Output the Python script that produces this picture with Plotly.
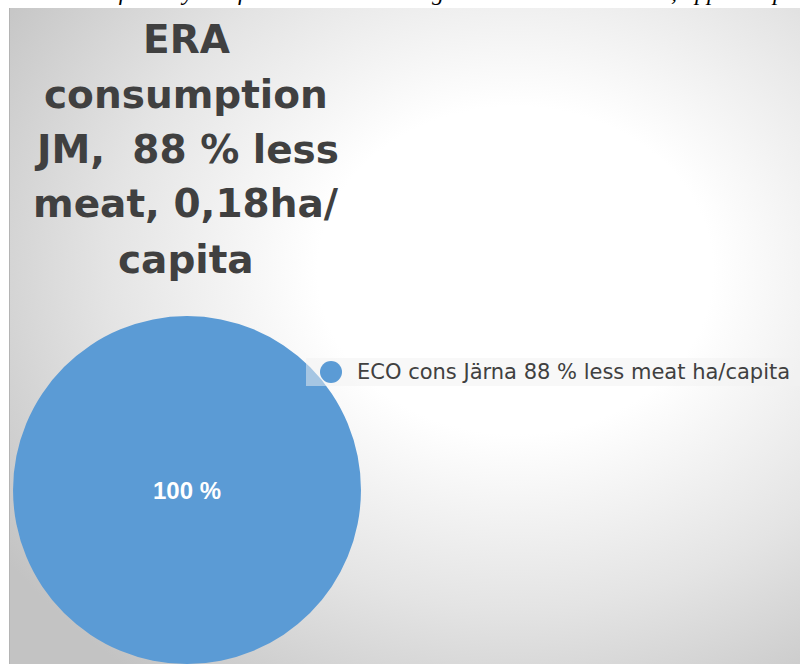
import base64
import plotly.graph_objects as go

# ---- data -------------------------------------------------------------
title_lines = ["ERA", "consumption", "JM,\u00a0\u00a088 % less", "meat, 0,18ha/", "capita"]
slice_labels = ["ECO cons Järna 88 % less meat ha/capita"]
slice_values = [0.18]          # ha per capita
slice_colors = ["#5B9BD5"]
caption_line = ("Bilden visar fotavtrycket för Järna med ekologisk kost och mindre kött, "
                "uppdelat per capita och jämfört med JM (Glada ...")

W, H = 800, 664
total = sum(slice_values)
slice_text = [f"{round(100 * v / total)} %" for v in slice_values]


def px(x):
    return x / W


def py(y):
    return 1 - y / H


# ---- radial-gradient chart area --------------------------------------
fx0, fy0 = 9, 8
fw, fh = W - fx0, H - fy0
svg = f"""<svg xmlns="http://www.w3.org/2000/svg" width="{fw}" height="{fh}" viewBox="0 0 {fw} {fh}" preserveAspectRatio="none">
<defs><radialGradient id="g" cx="0.64" cy="0.4" r="0.78">
<stop offset="0" stop-color="#ffffff"/>
<stop offset="0.32" stop-color="#ffffff"/>
<stop offset="0.66" stop-color="#e4e4e4"/>
<stop offset="1" stop-color="#c3c3c3"/>
</radialGradient></defs>
<rect x="0" y="0" width="{fw}" height="{fh}" fill="url(#g)"/>
</svg>"""
bg_src = "data:image/svg+xml;base64," + base64.b64encode(svg.encode()).decode()

fig = go.Figure()

fig.add_trace(go.Pie(
    labels=slice_labels,
    values=slice_values,
    text=slice_text,
    textinfo="text",
    texttemplate="%{text}",
    textposition="inside",
    insidetextorientation="horizontal",
    insidetextfont=dict(family="Liberation Sans", size=24, color="white", weight="bold"),
    marker=dict(colors=slice_colors, line=dict(width=0)),
    sort=False,
    direction="clockwise",
    rotation=90,
    hoverinfo="skip",
    showlegend=False,
    domain=dict(x=[px(13), px(361)], y=[0, 0.524]),
))

annotations = []

# title, one line per annotation
title_centers = [39.5, 94.5, 149.5, 203.5, 259.5]
for line, yc in zip(title_lines, title_centers):
    annotations.append(dict(
        text=line, x=px(186), y=py(yc), xref="paper", yref="paper",
        xanchor="center", yanchor="middle", showarrow=False,
        font=dict(family="DejaVu Sans", size=39, color="#404040", weight="bold"),
    ))

# legend entry
annotations.append(dict(
    text=slice_labels[0], x=px(355), y=py(372), xref="paper", yref="paper",
    xanchor="left", yanchor="middle", showarrow=False,
    font=dict(family="DejaVu Sans", size=21, color="#404040"),
))

# caption line of the surrounding page, cut by the top edge
annotations.append(dict(
    text=caption_line, x=px(-6), y=py(-8), xref="paper", yref="paper",
    xanchor="left", yanchor="middle", showarrow=False,
    font=dict(family="Liberation Serif", size=24, color="#000000", style="italic"),
))

shapes = [
    dict(type="line", xref="paper", yref="paper",
         x0=px(fx0 + 0.5), x1=px(fx0 + 0.5), y0=py(fy0), y1=0,
         line=dict(color="#b4b4b4", width=1), layer="above"),
    # legend box
    dict(type="rect", xref="paper", yref="paper",
         x0=px(306), x1=px(800), y0=py(386), y1=py(358),
         fillcolor="rgba(242,242,242,0.5)", line=dict(width=0), layer="above"),
    dict(type="circle", xref="paper", yref="paper",
         x0=px(320), x1=px(342), y0=py(383), y1=py(361),
         fillcolor=slice_colors[0], line=dict(width=0), layer="above"),
]

fig.update_layout(
    width=W, height=H,
    margin=dict(l=0, r=0, t=0, b=0),
    paper_bgcolor="white",
    plot_bgcolor="white",
    showlegend=False,
    annotations=annotations,
    shapes=shapes,
    images=[dict(
        source=bg_src, xref="paper", yref="paper",
        x=px(fx0), y=py(fy0), sizex=fw / W, sizey=fh / H,
        xanchor="left", yanchor="top", sizing="stretch", layer="below",
    )],
)

fig.write_html("out.html")
